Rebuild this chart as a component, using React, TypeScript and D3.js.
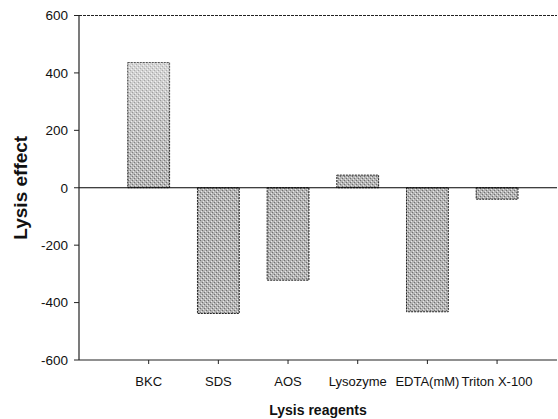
import React from "react";
import * as d3 from "d3";

const categories = ["BKC", "SDS", "AOS", "Lysozyme", "EDTA(mM)", "Triton X-100"];
const values = [436, -438, -322, 44, -432, -40];
const yTicks = [600, 400, 200, 0, -200, -400, -600];

export default function App() {
  const W = 558, H = 419;
  const left = 79, right = 557, top = 15.5, bottom = 360;
  const y = d3.scaleLinear().domain([-600, 600]).range([bottom, top]);
  const x = d3.scaleLinear().domain([0, 6.86]).range([left, right]);
  const bw = x(0.6) - x(0);
  const font = "Liberation Sans, Arial, sans-serif";
  return (
    <svg width={W} height={H} style={{ position: "absolute", left: 0, top: 0 }}>
      <defs>
        <pattern id="stip" width="4" height="4" patternUnits="userSpaceOnUse">
          <rect width="4" height="4" fill="#b4b4b4" />
          <rect x="0" y="0" width="1" height="1" fill="#707070" />
          <rect x="2" y="2" width="1" height="1" fill="#707070" />
          <rect x="1" y="3" width="1" height="1" fill="#e8e8e8" />
          <rect x="3" y="1" width="1" height="1" fill="#e8e8e8" />
        </pattern>
        <linearGradient id="bkcg" x1="0" y1="0" x2="0" y2="1">
          <stop offset="0" stopColor="#fff" stopOpacity="0.45" />
          <stop offset="0.6" stopColor="#fff" stopOpacity="0.15" />
          <stop offset="1" stopColor="#fff" stopOpacity="0" />
        </linearGradient>
      </defs>
      <rect width={W} height={H} fill="#fff" />
      <line x1={left} x2={right} y1={top} y2={top} stroke="#222" strokeWidth={1.2} strokeDasharray="3 1" />
      {values.map((v, i) => {
        const cx = x(i + 1);
        const y0 = y(Math.max(0, v));
        const h = Math.abs(y(v) - y(0));
        return (
          <g key={i}>
            <rect x={cx - bw / 2} y={y0} width={bw} height={h} fill="url(#stip)" stroke="#222" strokeWidth={1} strokeDasharray="2 1" />
            {i === 0 && <rect x={cx - bw / 2} y={y0} width={bw} height={h} fill="url(#bkcg)" />}
          </g>
        );
      })}
      <line x1={left} x2={right} y1={y(0)} y2={y(0)} stroke="#000" strokeWidth={1.2} />
      <line x1={left} x2={left} y1={top} y2={bottom} stroke="#222" strokeWidth={1.2} />
      {yTicks.map((t) => (
        <g key={t}>
          <line x1={left - 5} x2={left} y1={y(t)} y2={y(t)} stroke="#222" strokeWidth={1} />
          <text x={left - 11} y={y(t)} dy="0.36em" textAnchor="end" fontFamily={font} fontSize={13.5} fill="#111">{t}</text>
        </g>
      ))}
      <line x1={left} x2={right} y1={bottom} y2={bottom} stroke="#222" strokeWidth={1.2} />
      {categories.map((c, i) => (
        <g key={c}>
          <line x1={x(i + 1)} x2={x(i + 1)} y1={bottom} y2={bottom + 4} stroke="#222" strokeWidth={1} />
          <text x={x(i + 1)} y={386} textAnchor="middle" fontFamily={font} fontSize={13} fill="#111">{c}</text>
        </g>
      ))}
      <text x={318} y={415} textAnchor="middle" fontFamily={font} fontSize={14} fontWeight="bold" fill="#111">Lysis reagents</text>
      <text transform={`translate(27,${y(0)}) rotate(-90)`} textAnchor="middle" fontFamily={font} fontSize={19} fontWeight="bold" fill="#111">Lysis effect</text>
    </svg>
  );
}
